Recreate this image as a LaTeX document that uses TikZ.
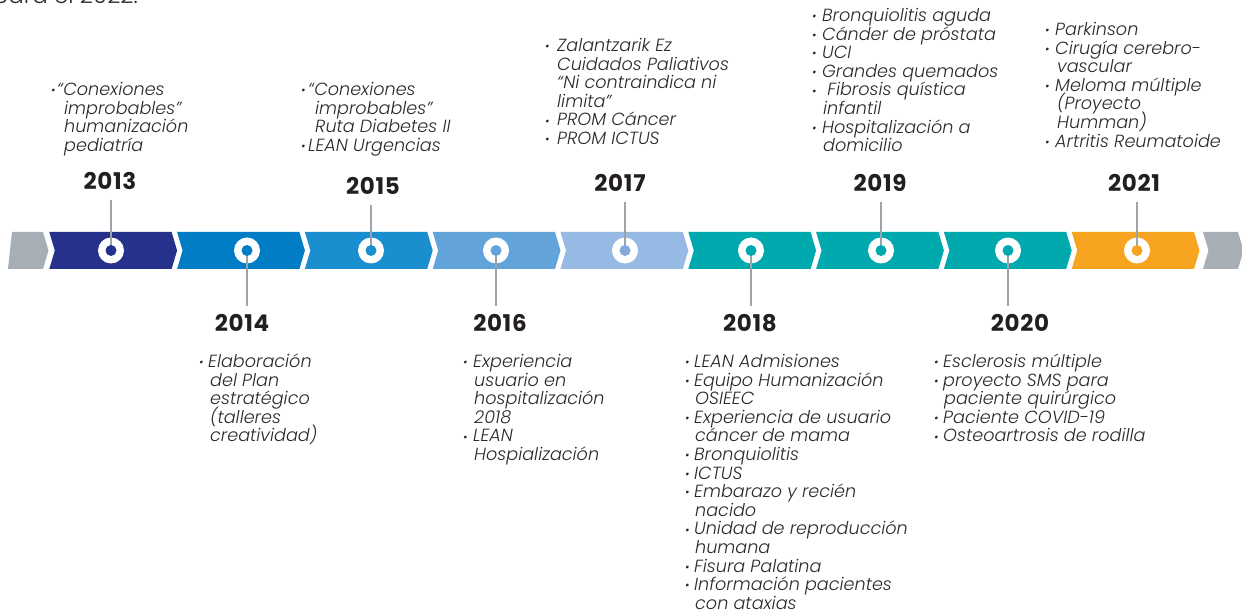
\documentclass[tikz,border=0pt]{standalone}
\usepackage{fontspec}
\usetikzlibrary{calc}
\newfontfamily\itf{Poppins Light Italic}
\newfontfamily\upf{Poppins Light}
\newfontfamily\yrf{Poppins Bold}[LetterSpace=3]
\definecolor{cgray}{HTML}{A8AEB6}
\definecolor{c13}{HTML}{25318A}
\definecolor{c14}{HTML}{007DC5}
\definecolor{c15}{HTML}{1B8ED0}
\definecolor{c16}{HTML}{62A3D9}
\definecolor{c17}{HTML}{96BAE3}
\definecolor{c17d}{HTML}{82A9D8}
\definecolor{c18}{HTML}{00A9AE}
\definecolor{c21}{HTML}{F7A520}
\definecolor{cconn}{HTML}{9CA3AB}
\definecolor{ctxt}{HTML}{2A2A2A}
\definecolor{cyr}{HTML}{231F20}
\newcommand\bg{{\fontsize{12}{12}\selectfont\raisebox{0.8pt}{•}}}
\newcommand\bu[1][10pt]{\makebox[#1][l]{\bg}}
\newcommand\cn[1][10pt]{\hspace*{#1}}
\newcommand\blk[1]{\vtop{\baselineskip=18.6pt\lineskiplimit=-100pt\lineskip=0pt\halign{##\hfil\cr#1\crcr}}}
\tikzset{
 txt/.style={inner sep=0pt, anchor=base west, text=ctxt, font=\itf\fontsize{17.6}{18.6}\selectfont},
 yr/.style={inner sep=0pt, text=cyr, font=\yrf\fontsize{23}{23}\selectfont},
 ring/.style={circle, fill=white, inner sep=0pt, minimum size=26pt},
 dot/.style={circle, inner sep=0pt, minimum size=11pt},
 conn/.style={draw=cconn, line width=1.2pt},
}
\begin{document}
\begin{tikzpicture}[x=1pt,y=-1pt]
\useasboundingbox (0,0) rectangle (1242,612);
% cut-off intro line
\node[inner sep=0pt, anchor=base east, text=ctxt, font=\upf\fontsize{23}{23}\selectfont] (intro) at (138,4) {para el 2022.};
% chevron band
\fill[cgray] (12,232) -- (43,232) -- (48.5,250.5) -- (43,269) -- (8,269) -- cycle;
\foreach \i/\c in {0/c13,1/c14,2/c15,3/c16,4/c17,5/c18,6/c18,7/c18,8/c21}{
  \pgfmathsetmacro\L{49.3+127.8*\i}
  \fill[\c] (\L,232) -- ++(122.3,0) -- ++(5.5,18.5) -- ++(-5.5,18.5) -- ++(-122.3,0) -- ++(5.5,-18.5) -- cycle;
}
\fill[cgray] (1203,232) -- (1238,232) -- (1243.5,250.5) -- (1238,269) -- (1203,269) -- (1208.5,250.5) -- cycle;
% rings
\node[ring] (c2013) at (111,250.5) {};
\node[ring] (c2014) at (247,250.5) {};
\node[ring] (c2015) at (371,250.5) {};
\node[ring] (c2016) at (496,250.5) {};
\node[ring] (c2017) at (625,250.5) {};
\node[ring] (c2018) at (751,250.5) {};
\node[ring] (c2019) at (881,250.5) {};
\node[ring] (c2020) at (1008,250.5) {};
\node[ring] (c2021) at (1137,250.5) {};
% years
\node[yr] (y2013) at (110,181) {2013};
\node[yr] (y2014) at (242,323) {2014};
\node[yr] (y2015) at (373,186) {2015};
\node[yr] (y2016) at (500,323) {2016};
\node[yr] (y2017) at (620,183) {2017};
\node[yr] (y2018) at (750,323) {2018};
\node[yr] (y2019) at (880,183) {2019};
\node[yr] (y2020) at (1020,323) {2020};
\node[yr] (y2021) at (1134,183) {2021};
% connectors
\foreach \n in {2013,2015,2017,2019,2021}{
  \draw[conn] ($(c\n.center |- y\n.south)+(0,10)$) -- (c\n.center);
}
\foreach \n in {2014,2016,2018,2020}{
  \draw[conn] (c\n.center) -- ($(c\n.center |- y\n.north)+(0,-8)$);
}
% dots
\node[dot, fill=c13] at (c2013) {};
\node[dot, fill=c14] at (c2014) {};
\node[dot, fill=c15] at (c2015) {};
\node[dot, fill=c16] at (c2016) {};
\node[dot, fill=c17d] at (c2017) {};
\node[dot, fill=c18] at (c2018) {};
\node[dot, fill=c18] at (c2019) {};
\node[dot, fill=c18] at (c2020) {};
\node[dot, fill=c21] at (c2021) {};
% text blocks
\node[txt] (t2013) at (51,95.5) {\blk{%
\bu[6pt]“Conexiones\cr \cn[13pt]improbables”\cr \cn[13pt]humanización\cr \cn[13pt]pediatría}};
\node[txt] (t2015) at (301,95.5) {\blk{%
\bu[7pt]“Conexiones\cr \cn[14pt]improbables”\cr \cn[14pt]Ruta Diabetes II\cr \bu[7pt]LEAN Urgencias}};
\node[txt] (t2017) at (545,51.5) {\blk{%
\bu[12pt]Zalantzarik Ez\cr \cn[12pt]Cuidados Paliativos\cr \cn[12pt]“Ni contraindica ni\cr \cn[12pt]limita”\cr \bu[12pt]PROM Cáncer\cr \bu[12pt]PROM ICTUS}};
\node[txt] (t2019) at (812,21.5) {\blk{%
\bu[10pt]Bronquiolitis aguda\cr \bu[10pt]Cánder de próstata\cr \bu[10pt]UCI\cr \bu[10pt]Grandes quemados\cr \bu[10pt]\ Fibrosis quística\cr \cn[11pt]infantil\cr \bu[10pt]Hospitalización a\cr \cn[11pt]domicilio}};
\node[txt] (t2021) at (1045,35.5) {\blk{%
\bu[10pt]Parkinson\cr \bu[10pt]Cirugía cerebro-\cr \cn[12pt]vascular\cr \bu[10pt]Meloma múltiple\cr \cn[12pt](Proyecto\cr \cn[12pt]Humman)\cr \bu[10pt]Artritis Reumatoide}};
\node[txt] (t2014) at (199,367.5) {\blk{%
\bu[9pt]Elaboración\cr \cn[11pt]del Plan\cr \cn[11pt]estratégico\cr \cn[11pt](talleres\cr \cn[11pt]creatividad)}};
\node[txt] (t2016) at (463,367.5) {\blk{%
\bu[10pt]Experiencia\cr \cn[11pt]usuario en\cr \cn[11pt]hospitalización\cr \cn[11pt]2018\cr \bu[10pt]LEAN\cr \cn[11pt]Hospialización}};
\node[txt] (t2018) at (685,367.5) {\blk{%
\bu[9pt]LEAN Admisiones\cr \bu[9pt]Equipo Humanización\cr \cn[10pt]OSIEEC\cr \bu[9pt]Experiencia de usuario\cr \cn[10pt]cáncer de mama\cr \bu[9pt]Bronquiolitis\cr \bu[9pt]ICTUS\cr \bu[9pt]Embarazo y recién\cr \cn[10pt]nacido\cr \bu[9pt]Unidad de reproducción\cr \cn[10pt]humana\cr \bu[9pt]Fisura Palatina\cr \bu[9pt]Información pacientes\cr \cn[10pt]con ataxias}};
\node[txt] (t2020) at (934,367.5) {\blk{%
\bu[9pt]Esclerosis múltiple\cr \bu[9pt]proyecto SMS para\cr \cn[10pt]paciente quirúrgico\cr \bu[9pt]Paciente COVID-19\cr \bu[9pt]Osteoartrosis de rodilla}};
\end{tikzpicture}
\end{document}
